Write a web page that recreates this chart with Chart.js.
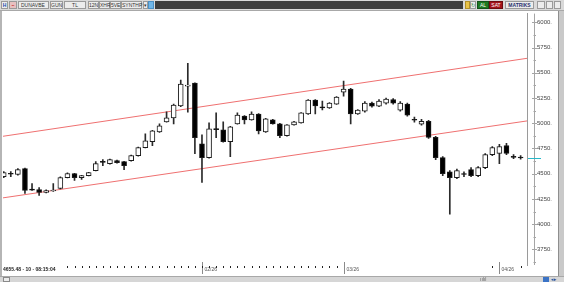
<!DOCTYPE html>
<html>
<head>
<meta charset="utf-8">
<script src="https://cdn.jsdelivr.net/npm/chart.js@4.4.1/dist/chart.umd.min.js"></script>
<style>
  html,body{margin:0;padding:0;background:#fff;width:564px;height:282px;overflow:hidden;font-family:"Liberation Sans",Arial,sans-serif;}
  #c{position:absolute;left:0;top:0;}
  .abs{position:absolute;box-sizing:border-box;}
  #top{left:0;top:0;width:564px;height:11px;background:#d9d9d9;border-bottom:1px solid #a8a8a8;}
  .btn{position:absolute;top:1px;height:8px;border:1px solid #9a9a9a;background:#ececec;font-size:5px;line-height:6px;color:#333;text-align:center;box-sizing:border-box;}
  #left{left:0;top:11px;width:2px;height:265px;background:#b5b5b5;}
  #right{left:558px;top:11px;width:6px;height:265px;background:#c9c9c9;border-left:1px solid #8e8e8e;}
  #bottom{left:0;top:276px;width:564px;height:6px;background:#d6d6d6;border-top:1px solid #a8a8a8;}
  #info{left:3px;top:266px;font-size:5px;font-weight:bold;color:#222;line-height:6px;white-space:nowrap;}
</style>
</head>
<body>
<canvas id="c" width="564" height="282"></canvas>

<div id="top" class="abs">
  <div class="btn" style="left:1px;width:7px;color:#1a4fb0;font-weight:bold;">H</div>
  <div class="btn" style="left:9px;width:8px;background:#e8c0c0;color:#b00;">~</div>
  <div class="btn" style="left:18px;width:31px;text-align:left;padding-left:2px;">DUNAVBE</div>
  <div class="btn" style="left:50px;width:13px;">GUN</div>
  <div class="btn" style="left:64px;width:22px;">TL</div>
  <div class="btn" style="left:88px;width:11px;">12N</div>
  <div class="btn" style="left:99px;width:11px;">XHR</div>
  <div class="btn" style="left:110px;width:11px;">5VE</div>
  <div class="btn" style="left:121px;width:21px;">SYNTHP</div>
  <div class="btn" style="left:143px;width:5px;">▾</div>
  <div class="btn" style="left:148px;width:6px;background:#6fb6e8;border-color:#4a8fc4;"></div>
  <div class="abs" style="left:155px;top:1px;width:308px;height:8px;background:#3d3d3d;"></div>
  <div class="btn" style="left:465px;width:5px;background:#e9c347;border-color:#b08f2a;"></div>
  <div class="btn" style="left:470px;width:6px;color:#2a8a3a;">↻</div>
  <div class="btn" style="left:477px;width:12px;background:#1f7a22;border-color:#13521a;color:#fff;">AL</div>
  <div class="btn" style="left:489px;width:14px;background:#a3141b;border-color:#6e0c10;color:#fff;">SAT</div>
  <div class="btn" style="left:505px;width:29px;color:#27306e;font-weight:bold;">MATRIKS</div>
  <div class="btn" style="left:537px;width:8px;"></div>
  <div class="btn" style="left:546px;width:7px;"></div>
  <div class="btn" style="left:554px;width:7px;"></div>
</div>
<div id="left" class="abs"></div>
<div id="right" class="abs"></div>
<div id="bottom" class="abs">
  <div class="abs" style="left:3px;top:0px;width:7px;height:5px;border:1px solid #8a8a8a;background:#ececec;"></div>
  <div class="abs" style="left:480px;top:0px;font-size:5px;line-height:5px;color:#666;">ıılıl</div>
  <div class="abs" style="left:543px;top:0px;width:6px;height:5px;background:#3b73c6;"></div>
  <div class="abs" style="left:551px;top:0px;font-size:5px;line-height:5px;color:#2a55a0;">◂▸</div>
</div>
<div id="info" class="abs">4655.48 - 10 - 08:15:04</div>

<script>
// daily candles, index 0 = first visible session
const opens  = [4472,4505,4492,4551,4348,4344,4315,4330,4354,4462,4502,4462,4482,4531,4622,4600,4630,4620,4630,4679,
                4758,4817,4915,5013,5053,5171,5368,5397,4797,4659,4946,4935,4817,4994,5072,5033,5092,4915,5033,4994,
                4876,4984,5004,5092,5230,5162,5151,5190,5309,5338,5092,5120,5200,5170,5200,5235,5130,5190,5040,4990,
                5020,4860,4660,4520,4460,4502,4540,4480,4560,4690,4700,4780,4672,4666];
const highs  = [4521,4521,4551,4555,4403,4364,4340,4403,4470,4508,4505,4485,4515,4620,4639,4645,4635,4622,4685,4765,
                4895,4930,4994,5112,5190,5427,5594,5400,4885,5004,5102,5013,4970,5102,5076,5112,5095,5048,5038,4998,
                4988,5018,5106,5235,5235,5220,5205,5264,5417,5345,5135,5215,5210,5235,5250,5245,5215,5200,5060,5040,
                5030,4870,4670,4530,4545,4520,4560,4570,4700,4770,4790,4800,4690,4680];
const lows   = [4462,4472,4485,4305,4335,4285,4310,4325,4350,4458,4433,4443,4478,4528,4580,4595,4605,4541,4625,4675,
                4755,4777,4910,5010,4994,5165,5110,4699,4413,4655,4856,4812,4669,4990,4994,5030,4895,4910,4990,4856,
                4872,4980,5000,5088,5092,5131,5147,5186,5269,4994,5088,5110,5160,5165,5190,5190,5120,5070,5010,4980,
                4850,4640,4480,4100,4450,4470,4470,4470,4550,4680,4600,4690,4650,4645];
const closes = [4511,4495,4541,4334,4338,4315,4334,4338,4462,4502,4462,4482,4511,4600,4612,4639,4610,4580,4679,4758,
                4826,4925,4974,5053,5181,5387,5377,4856,4659,4944,4936,4817,4964,5082,5033,5092,4925,5043,4994,4876,
                4984,5013,5102,5230,5171,5152,5200,5259,5338,5092,5131,5200,5170,5220,5240,5200,5200,5080,5030,5020,
                4860,4660,4500,4460,4530,4492,4480,4560,4690,4760,4770,4700,4662,4656];

// trend channel end points (x in candle index units)
const channelX     = [-0.1, 73.9];
const upperChannel = [4871, 5643];
const lowerChannel = [4261, 5023];

// axis ticks
const yTickValues  = [3750,4000,4250,4500,4750,5000,5250,5500,5750,6000];
const yMinorValues = [3625,3875,4125,4375,4625,4875,5125,5375,5625,5875];
const monthIdx     = [28, 48, 70];
const monthLabels  = ['02/26','03/26','04/26'];

const bodies = opens.map((o,i)=>({x:i, y:[o, closes[i]]}));
const wicks  = lows.map((l,i)=>({x:i, y:[l, highs[i]]}));
const bodyColors = opens.map((o,i)=> closes[i] >= o ? '#ffffff' : '#000000');
const RED = '#ef7070';

// extra axis marks drawn with the chart scales
const extras = {
  id: 'extras',
  afterDraw(chart){
    const {ctx, chartArea:a, scales:{x, y}} = chart;
    ctx.save();
    // inner axis rail + tick marks
    ctx.strokeStyle = '#a5a5a5';
    ctx.lineWidth = 1;
    ctx.beginPath();
    ctx.moveTo(534.5, a.top); ctx.lineTo(534.5, a.bottom);
    yTickValues.forEach(v=>{
      const py = Math.round(y.getPixelForValue(v)) + 0.5;
      ctx.moveTo(532, py); ctx.lineTo(537, py);
    });
    yMinorValues.forEach(v=>{
      const py = Math.round(y.getPixelForValue(v)) + 0.5;
      ctx.moveTo(533.5, py); ctx.lineTo(536, py);
    });
    ctx.stroke();

    // month separators and labels
    ctx.strokeStyle = '#8a8a8a';
    ctx.fillStyle = '#555';
    ctx.font = '5px "Liberation Sans"';
    ctx.textBaseline = 'middle';
    monthIdx.forEach((i,k)=>{
      const px = Math.round(x.getPixelForValue(i)) + 0.5;
      ctx.beginPath();
      ctx.moveTo(px, a.bottom - 3); ctx.lineTo(px, a.bottom + 9);
      ctx.stroke();
      ctx.fillText(monthLabels[k], px + 2, a.bottom + 5);
    });

    // day markers
    ctx.fillStyle = '#222';
    const dots = [];
    for(let i = 9; i <= 47; i++) dots.push(i);
    dots.push(69, 73);
    dots.forEach(i=>{
      const px = Math.round(x.getPixelForValue(i));
      ctx.fillRect(px, a.bottom + 1, 1, 2);
    });

    // last price marker
    const lp = Math.round(y.getPixelForValue(closes[closes.length-1])) + 0.5;
    ctx.strokeStyle = '#27b8c8';
    ctx.beginPath();
    ctx.moveTo(a.right + 1, lp); ctx.lineTo(a.right + 14, lp);
    ctx.stroke();
    ctx.restore();
  }
};

new Chart(document.getElementById('c'), {
  type: 'bar',
  data: {
    datasets: [
      { type:'bar', data: bodies, backgroundColor: bodyColors, borderColor:'#1a1a1a', borderWidth:1,
        borderSkipped:false, barThickness:5, grouped:false, order:1 },
      { type:'bar', data: wicks, backgroundColor:'#2a2a2a', borderWidth:0,
        barThickness:1, grouped:false, order:2 },
      { type:'line', data: channelX.map((v,k)=>({x:v, y:upperChannel[k]})), borderColor:RED,
        borderWidth:1, pointRadius:0, order:3 },
      { type:'line', data: channelX.map((v,k)=>({x:v, y:lowerChannel[k]})), borderColor:RED,
        borderWidth:1, pointRadius:0, order:3 }
    ]
  },
  options: {
    responsive: false,
    animation: false,
    devicePixelRatio: 1,
    layout: { padding: { left:3, top:12, right:0, bottom:17 } },
    plugins: { legend:{display:false}, tooltip:{enabled:false} },
    scales: {
      x: { type:'linear', min:channelX[0], max:channelX[1], offset:false, display:false },
      y: {
        position:'right', min:3596, max:6086,
        afterFit(s){ s.width = 37; },
        afterBuildTicks(s){ s.ticks = yTickValues.map(v=>({value:v})); },
        grid:{ display:false, drawTicks:false },
        border:{ display:true, color:'#9a9a9a', width:1 },
        ticks:{ padding:10, color:'#444', font:{ size:6, family:'Liberation Sans' }, callback: v => v + '.' }
      }
    }
  },
  plugins: [extras]
});
</script>
</body>
</html>
